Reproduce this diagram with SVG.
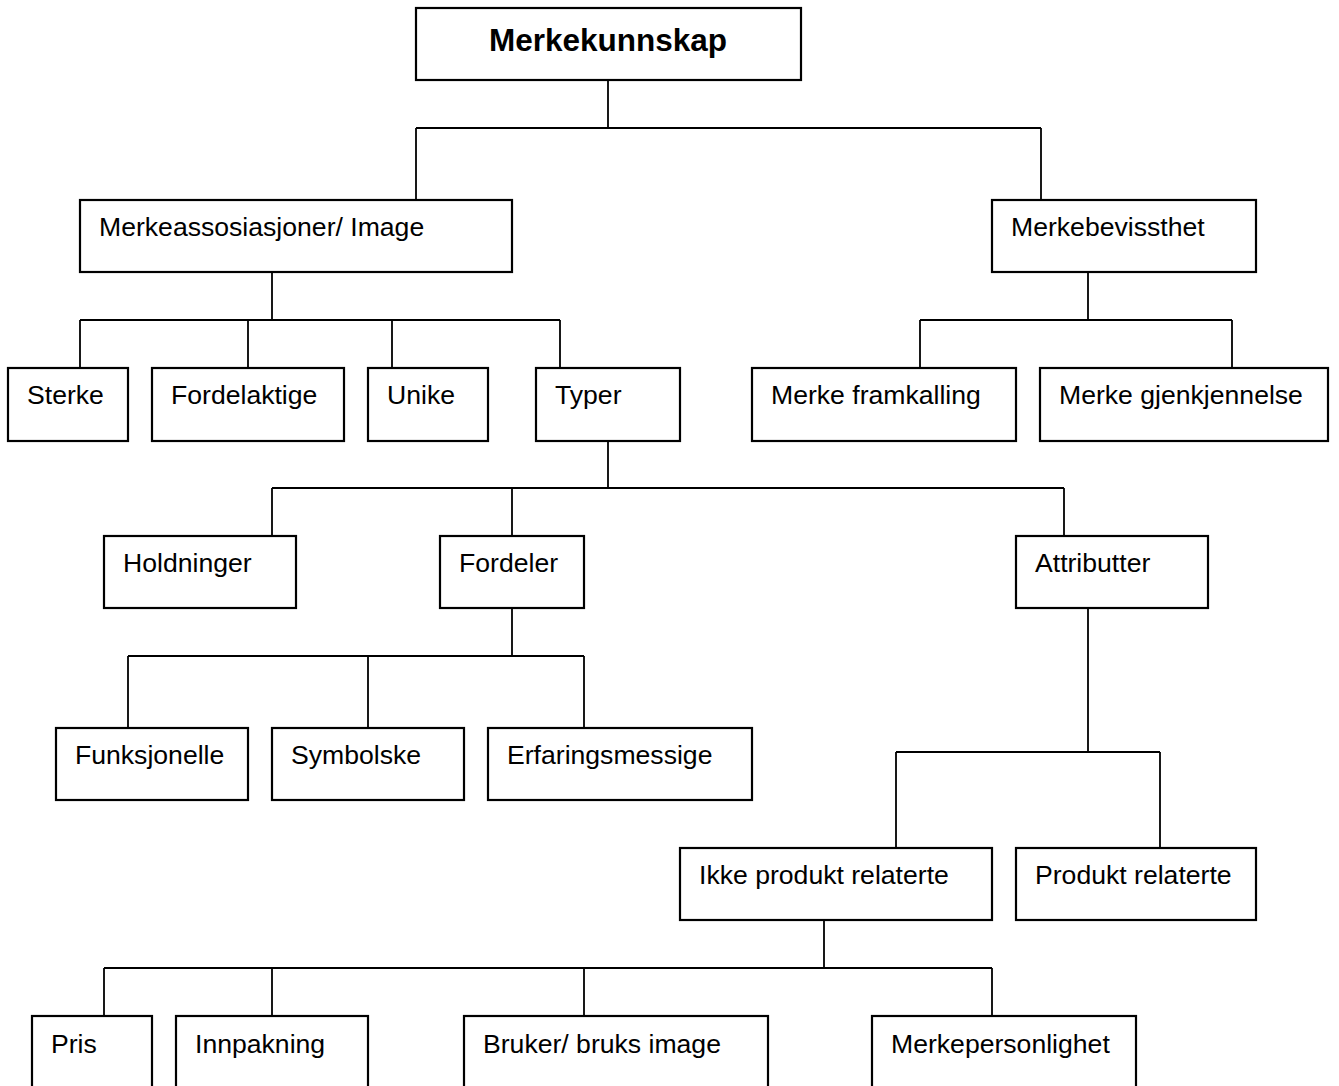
<svg xmlns="http://www.w3.org/2000/svg" width="1339" height="1086" viewBox="0 0 1339 1086">
  <style>
    .box { fill: #ffffff; stroke: #000000; stroke-width: 2.2; }
    .lbl { font-family: "Liberation Sans", Arial, sans-serif; font-size: 26.6px; fill: #000000; }
    .title { font-family: "Liberation Sans", Arial, sans-serif; font-size: 31.5px; font-weight: bold; fill: #000000; text-anchor: middle; }
    #connectors path { fill: none; stroke: #000000; stroke-width: 1.8; }
  </style>
  <rect width="1339" height="1086" fill="#ffffff"/>

  <!-- tree connectors: parent stem, bar, child drops -->
  <g id="connectors">
    <path d="M608 80 V128 M416 128 H1041 M416 128 V200 M1041 128 V200"/>
    <path d="M272 272 V320 M80 320 H560 M80 320 V368 M248 320 V368 M392 320 V368 M560 320 V368"/>
    <path d="M1088 272 V320 M920 320 H1232 M920 320 V368 M1232 320 V368"/>
    <path d="M608 441 V488 M272 488 H1064 M272 488 V536 M512 488 V536 M1064 488 V536"/>
    <path d="M512 608 V656 M128 656 H584 M128 656 V728 M368 656 V728 M584 656 V728"/>
    <path d="M1088 608 V752 M896 752 H1160 M896 752 V848 M1160 752 V848"/>
    <path d="M824 920 V968 M104 968 H992 M104 968 V1016 M272 968 V1016 M584 968 V1016 M992 968 V1016"/>
  </g>

  <g id="merkekunnskap"><rect class="box" x="416" y="8" width="385" height="72"/><text class="title" x="608" y="51">Merkekunnskap</text></g>

  <g id="merkeassosiasjoner"><rect class="box" x="80" y="200" width="432" height="72"/><text class="lbl" x="99" y="236">Merkeassosiasjoner/ Image</text></g>
  <g id="merkebevissthet"><rect class="box" x="992" y="200" width="264" height="72"/><text class="lbl" x="1011" y="236">Merkebevissthet</text></g>

  <g id="sterke"><rect class="box" x="8" y="368" width="120" height="73"/><text class="lbl" x="27" y="404">Sterke</text></g>
  <g id="fordelaktige"><rect class="box" x="152" y="368" width="192" height="73"/><text class="lbl" x="171" y="404">Fordelaktige</text></g>
  <g id="unike"><rect class="box" x="368" y="368" width="120" height="73"/><text class="lbl" x="387" y="404">Unike</text></g>
  <g id="typer"><rect class="box" x="536" y="368" width="144" height="73"/><text class="lbl" x="555" y="404">Typer</text></g>
  <g id="merke-framkalling"><rect class="box" x="752" y="368" width="264" height="73"/><text class="lbl" x="771" y="404">Merke framkalling</text></g>
  <g id="merke-gjenkjennelse"><rect class="box" x="1040" y="368" width="288" height="73"/><text class="lbl" x="1059" y="404">Merke gjenkjennelse</text></g>

  <g id="holdninger"><rect class="box" x="104" y="536" width="192" height="72"/><text class="lbl" x="123" y="572">Holdninger</text></g>
  <g id="fordeler"><rect class="box" x="440" y="536" width="144" height="72"/><text class="lbl" x="459" y="572">Fordeler</text></g>
  <g id="attributter"><rect class="box" x="1016" y="536" width="192" height="72"/><text class="lbl" x="1035" y="572">Attributter</text></g>

  <g id="funksjonelle"><rect class="box" x="56" y="728" width="192" height="72"/><text class="lbl" x="75" y="764">Funksjonelle</text></g>
  <g id="symbolske"><rect class="box" x="272" y="728" width="192" height="72"/><text class="lbl" x="291" y="764">Symbolske</text></g>
  <g id="erfaringsmessige"><rect class="box" x="488" y="728" width="264" height="72"/><text class="lbl" x="507" y="764">Erfaringsmessige</text></g>

  <g id="ikke-produkt-relaterte"><rect class="box" x="680" y="848" width="312" height="72"/><text class="lbl" x="699" y="884">Ikke produkt relaterte</text></g>
  <g id="produkt-relaterte"><rect class="box" x="1016" y="848" width="240" height="72"/><text class="lbl" x="1035" y="884">Produkt relaterte</text></g>

  <g id="pris"><rect class="box" x="32" y="1016" width="120" height="80"/><text class="lbl" x="51" y="1053">Pris</text></g>
  <g id="innpakning"><rect class="box" x="176" y="1016" width="192" height="80"/><text class="lbl" x="195" y="1053">Innpakning</text></g>
  <g id="bruker-bruks-image"><rect class="box" x="464" y="1016" width="304" height="80"/><text class="lbl" x="483" y="1053">Bruker/ bruks image</text></g>
  <g id="merkepersonlighet"><rect class="box" x="872" y="1016" width="264" height="80"/><text class="lbl" x="891" y="1053">Merkepersonlighet</text></g>
</svg>
